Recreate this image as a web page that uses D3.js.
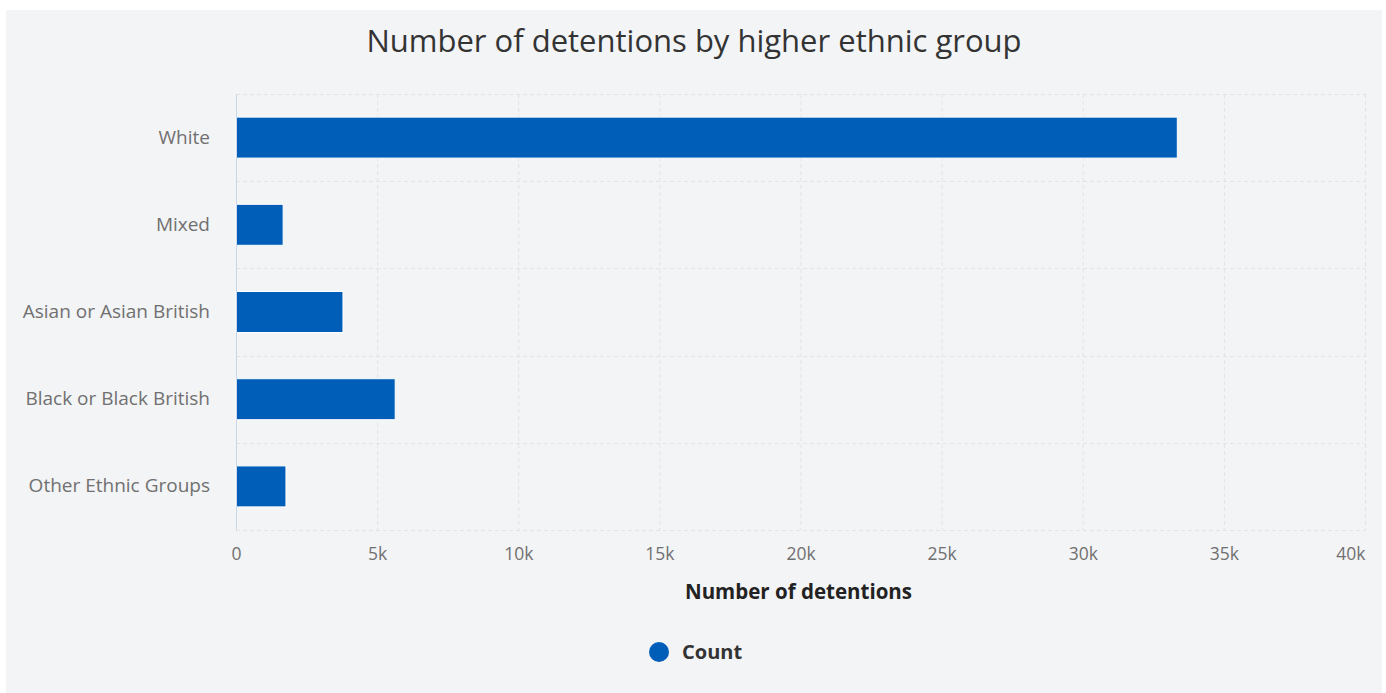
<!DOCTYPE html>
<html>
<head>
<meta charset="utf-8">
<script src="https://cdn.jsdelivr.net/npm/d3@7"></script>
<style>
  html, body { margin: 0; padding: 0; background: #ffffff; }
  svg { display: block; }
</style>
</head>
<body>
<svg id="chart" width="1386" height="693"></svg>
<script>
// Detentions by higher ethnic group
const categories = ["White", "Mixed", "Asian or Asian British", "Black or Black British", "Other Ethnic Groups"];
const counts = [33350, 1670, 3790, 5640, 1770];
const xTicks = [0, 5000, 10000, 15000, 20000, 25000, 30000, 35000, 40000];
const xTickLabels = ["0", "5k", "10k", "15k", "20k", "25k", "30k", "35k", "40k"];

const svg = d3.select("#chart");
const W = 1386, H = 693;

// panel background
svg.append("rect")
  .attr("x", 6).attr("y", 10)
  .attr("width", 1376).attr("height", 683)
  .attr("fill", "#f3f4f6");

const margin = { left: 236, right: 21, top: 94, bottom: 163 };
const plotW = W - margin.left - margin.right;
const plotH = H - margin.top - margin.bottom;

const x = d3.scaleLinear().domain([0, 40000]).range([margin.left, margin.left + plotW]);
const y = d3.scaleBand().domain(categories).range([margin.top, margin.top + plotH]).paddingInner(0.53).paddingOuter(0.265);
const yGrid = d3.scaleBand().domain(categories).range([margin.top, margin.top + plotH]);

// title
svg.append("text")
  .attr("x", 694).attr("y", 52)
  .attr("text-anchor", "middle")
  .attr("font-family", "Open Sans")
  .attr("font-size", 31)
  .attr("fill", "#333333")
  .text("Number of detentions by higher ethnic group");

// vertical dashed gridlines
const grid = svg.append("g");
grid.selectAll("line.v").data(xTicks).join("line")
  .attr("class", "v")
  .attr("x1", d => x(d) + 0.5).attr("x2", d => x(d) + 0.5)
  .attr("y1", margin.top).attr("y2", margin.top + plotH)
  .attr("stroke", "#e3e3e3").attr("stroke-width", 1)
  .attr("stroke-dasharray", "4,3");

// horizontal dashed gridlines at category boundaries
const hLines = categories.map(c => yGrid(c)).concat([margin.top + plotH]);
grid.selectAll("line.h").data(hLines).join("line")
  .attr("class", "h")
  .attr("x1", margin.left).attr("x2", margin.left + plotW)
  .attr("y1", d => Math.round(d) + 0.5).attr("y2", d => Math.round(d) + 0.5)
  .attr("stroke", "#e3e3e3").attr("stroke-width", 1)
  .attr("stroke-dasharray", "4,3");

// bars
svg.append("g").selectAll("rect").data(categories).join("rect")
  .attr("x", x(0))
  .attr("y", d => y(d))
  .attr("width", (d, i) => x(counts[i]) - x(0))
  .attr("height", y.bandwidth())
  .attr("fill", "#005eb8")
  .attr("stroke", "#ffffff")
  .attr("stroke-width", 1);

// y axis line
svg.append("line")
  .attr("x1", margin.left + 0.5).attr("x2", margin.left + 0.5)
  .attr("y1", margin.top).attr("y2", margin.top + plotH)
  .attr("stroke", "#ccd6eb").attr("stroke-width", 1);

// y axis labels
const yAxis = d3.axisLeft(y).tickSize(0).tickPadding(26);
const yg = svg.append("g").attr("transform", `translate(${margin.left},0)`).call(yAxis);
yg.select(".domain").remove();
yg.selectAll("text")
  .attr("font-family", "Open Sans")
  .attr("font-size", 19)
  .attr("fill", "#707070");

// x axis labels
const xAxis = d3.axisBottom(x).tickValues(xTicks).tickFormat((d, i) => xTickLabels[i]).tickSize(0).tickPadding(18);
const xg = svg.append("g").attr("transform", `translate(0,${margin.top + plotH})`).call(xAxis);
xg.select(".domain").remove();
xg.selectAll("text")
  .attr("font-family", "Open Sans")
  .attr("font-size", 17.5)
  .attr("fill", "#707070");
// keep the last tick label inside the plot edge
xg.selectAll(".tick").filter(d => d === 40000).select("text")
  .attr("text-anchor", "end");

// x axis title
svg.append("text")
  .attr("x", x(20000) - 2).attr("y", 599)
  .attr("text-anchor", "middle")
  .attr("font-family", "Open Sans")
  .attr("font-weight", "bold")
  .attr("font-size", 20.5)
  .attr("fill", "#222222")
  .text("Number of detentions");

// legend
svg.append("circle")
  .attr("cx", 659).attr("cy", 652).attr("r", 10)
  .attr("fill", "#005eb8");
svg.append("text")
  .attr("x", 682).attr("y", 659)
  .attr("font-family", "Open Sans")
  .attr("font-weight", "bold")
  .attr("font-size", 20)
  .attr("fill", "#333333")
  .text("Count");
</script>
</body>
</html>
